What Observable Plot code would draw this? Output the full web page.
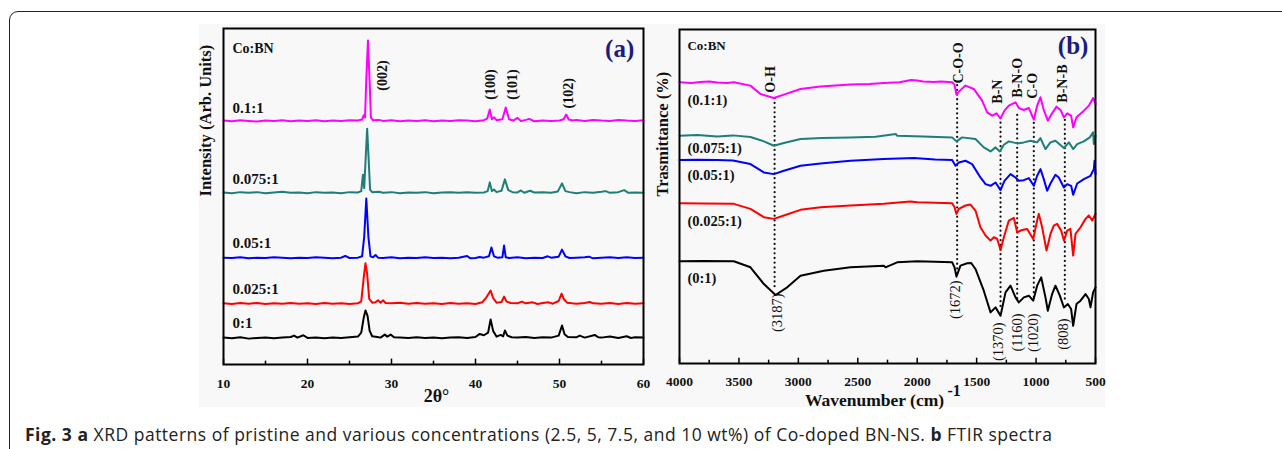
<!DOCTYPE html>
<html><head><meta charset="utf-8">
<script src="https://cdn.jsdelivr.net/npm/d3@7"></script>
<script src="https://cdn.jsdelivr.net/npm/@observablehq/plot@0.6"></script>
<style>
body{margin:0;background:#fff;width:1282px;height:449px;overflow:hidden;position:relative}
#frame{position:absolute;left:9px;top:11px;width:1400px;height:600px;border:1.5px solid #222;border-radius:9px;box-sizing:border-box}
#bg{position:absolute;left:199px;top:24px;width:906px;height:383px;background:#f8f8f8}
#a{position:absolute;left:180px;top:0}
#b{position:absolute;left:650px;top:0}
#cap{position:absolute;left:25px;top:424px;font-family:"Open Sans",sans-serif;font-size:17.5px;letter-spacing:0.5px;line-height:20px;color:#222;white-space:nowrap}
#cap b{font-weight:700}
</style></head><body>
<div id="frame"></div>
<div id="bg"></div>
<div id="a"></div>
<div id="b"></div>
<div id="cap"><b>Fig. 3 a</b> XRD patterns of pristine and various concentrations (2.5, 5, 7.5, and 10 wt%) of Co-doped BN-NS. <b>b</b> FTIR spectra</div>
<script>
// ---------- Panel (a): XRD ----------
const xrdNames = ["0.1:1", "0.075:1", "0.05:1", "0.025:1", "0:1"];
const xrdColors = ["#ff00ff", "#1e7f78", "#0000ff", "#ff0000", "#000000"];
const xrd01 = [[10,72.6],[11,72.4],[12,72.7],[13,72.5],[14,72.3],[15,72.6],[16,72.5],[17,72.7],[18,72.4],[19,72.6],[20,72.5],[21,72.7],[22,72.4],[23,72.6],[24,72.5],[25,72.7],[26,72.6],[26.5,72.9],[26.7,74.2],[26.85,73.5],[27.0,85],[27.2,96.4],[27.4,84],[27.55,73.5],[27.8,72.7],[28.5,72.8],[29,72.5],[30,72.7],[31,72.4],[32,72.6],[33,72.5],[34,72.7],[35,72.4],[36,72.6],[37,72.5],[38,72.7],[39,72.6],[40,72.4],[41,72.7],[41.4,73.2],[41.7,75.9],[41.95,73],[42.2,73.6],[42.5,72.7],[43.2,73],[43.6,76.5],[44.0,73],[44.5,72.6],[45,73.4],[45.4,72.5],[46,72.8],[46.4,73.1],[47,72.4],[48,72.6],[49,72.5],[50,72.6],[50.5,73.0],[50.8,74.4],[51.1,72.9],[51.6,72.6],[52,72.8],[53,72.5],[54,72.8],[55,72.6],[56,72.5],[57,72.8],[58,72.6],[59,72.5],[60,72.7]];
const xrd0075 = [[10,51.2],[11,51.0],[12,51.3],[13,51.1],[14,51.3],[15,51.0],[16,51.2],[17,51.4],[18,51.1],[19,51.2],[20,51.0],[21,51.3],[22,51.1],[23,51.2],[24,51.0],[25,51.3],[26,51.2],[26.4,51.6],[26.6,56.5],[26.75,52.5],[26.9,60],[27.1,70.2],[27.3,60],[27.45,52],[27.7,51.3],[28.5,51.4],[29,51.1],[30,51.3],[31,51.0],[32,51.2],[33,51.1],[34,51.3],[35,51.0],[36,51.2],[37,51.3],[38,51.1],[39,51.3],[40,51.1],[41,51.2],[41.45,51.6],[41.7,54.2],[41.95,51.6],[42.2,52.1],[42.5,51.3],[43.1,51.7],[43.5,55.1],[43.9,51.9],[44.4,51.3],[45,51.2],[45.4,51.8],[45.8,51.1],[46.5,51.7],[47,51.2],[48,51.3],[49,51.1],[49.8,51.5],[50.3,53.9],[50.7,51.6],[51.2,51.3],[52,51.0],[53,51.3],[54,51.1],[55,51.4],[55.5,51.6],[56,51.1],[57,51.3],[57.7,51.9],[58.2,51.1],[59,51.2],[60,51.1]];
const xrd005 = [[10,31.8],[11,31.7],[12,31.9],[13,31.6],[14,31.8],[15,31.7],[16,31.9],[17,31.8],[18,31.6],[19,31.8],[20,31.7],[21,31.9],[22,31.8],[23,31.6],[24,31.8],[24.5,32.3],[25,31.7],[26,31.8],[26.5,32.2],[26.75,38],[27.0,49.4],[27.25,38],[27.5,32.2],[27.8,31.9],[28.1,32.6],[28.4,31.8],[29,31.7],[30,31.9],[31,31.6],[32,31.8],[33,31.7],[34,31.9],[35,31.7],[36,31.8],[37,31.6],[38,31.8],[39,32.3],[39.4,31.6],[40,31.7],[40.5,32.0],[41,31.8],[41.6,32.2],[41.9,34.8],[42.2,32.2],[42.6,31.8],[43.2,31.9],[43.4,35.4],[43.6,31.9],[44,31.7],[45,31.9],[46,31.6],[47,31.8],[48,31.7],[48.6,32.2],[49,31.8],[49.9,32.1],[50.3,34.2],[50.7,32.2],[51.2,31.7],[52,31.8],[53,31.9],[53.5,32.1],[54,31.6],[55,31.8],[56,31.9],[57,31.7],[58,31.9],[59,31.7],[60,31.8]];
const xrd0025 = [[10,18.2],[11,18.0],[12,18.3],[13,18.1],[14,18.3],[15,18.0],[16,18.2],[17,18.1],[18,18.3],[19,18.1],[20,18.2],[21,18.0],[22,18.3],[23,18.1],[24,18.2],[25,18.0],[26,18.2],[26.4,18.8],[26.7,26],[26.9,30.1],[27.1,27],[27.35,19.5],[27.7,18.4],[28.1,18.5],[28.4,19.1],[28.7,18.4],[29.0,19.1],[29.3,18.3],[30,18.2],[31,18.4],[32,18.1],[33,18.3],[34,18.1],[35,18.2],[36,18.0],[37,18.3],[38,18.1],[39,18.2],[40,18.0],[40.8,18.5],[41.3,20.0],[41.8,22.0],[42.1,19.8],[42.5,18.4],[43.1,18.6],[43.4,20.2],[43.7,18.7],[44.2,18.3],[45,18.2],[45.5,18.7],[46,18.2],[46.8,18.5],[47.4,18.0],[48,18.3],[48.7,18.5],[49.2,18.1],[49.9,18.9],[50.25,21.1],[50.5,19.5],[50.9,18.4],[51.5,18.2],[52,18.1],[53,18.3],[53.6,18.6],[54,18.2],[55,18.1],[56,18.3],[57,18.0],[58,18.3],[59,18.1],[60,18.2]];
const xrd0 = [[10,8.0],[11,7.8],[12,8.1],[13,7.7],[14,7.9],[15,8.0],[16,7.8],[17,8.0],[18,8.2],[18.4,8.6],[18.8,8.0],[19.5,8.7],[20,7.9],[21,8.0],[22,7.8],[23,8.0],[24,7.9],[25,8.1],[26,8.3],[26.4,9.5],[26.7,14],[26.9,16.1],[27.15,14.5],[27.4,10],[27.7,8.4],[28.3,8.2],[28.7,8.0],[29.2,8.9],[29.5,8.3],[29.9,8.9],[30.3,8.1],[31,8.0],[32,7.9],[33,8.1],[34,7.9],[35,8.0],[36,7.8],[37,8.0],[38,8.1],[39,7.9],[40,8.2],[40.5,9.1],[41.0,8.7],[41.5,9.5],[41.8,13.4],[42.1,10],[42.5,8.3],[43.0,8.8],[43.3,8.4],[43.5,10.1],[43.8,8.6],[44.3,8.1],[45,8.0],[46,8.2],[47,7.9],[48,8.1],[49,8.0],[49.9,8.6],[50.3,11.6],[50.6,9.0],[51,8.2],[52,8.1],[52.4,8.6],[53,8.0],[54.2,8.8],[54.6,8.1],[55,8.0],[56,8.3],[57,7.9],[58,8.4],[58.5,7.9],[59,8.1],[60,8.0]];
const xrdSeries = [xrd01, xrd0075, xrd005, xrd0025, xrd0];
const xrdLabelY = [76.2, 55.1, 36.0, 22.3, 12.2];
const xrdTicks = [10, 20, 30, 40, 50, 60];
const xrdMinorTicks = [15, 25, 35, 45, 55];
const peakNames = ["(002)", "(100)", "(101)", "(102)"];
const peakX = [28.9, 41.8, 44.4, 51.1];
const peakY = [81.5, 78.8, 78.8, 76.2];

// ---------- Panel (b): FTIR ----------
const ftirNames = ["(0.1:1)", "(0.075:1)", "(0.05:1)", "(0.025:1)", "(0:1)"];
const ftirColors = ["#ff00ff", "#1e7f78", "#0000ff", "#ff0000", "#000000"];
const ftir01 = [[4000,84.2],[3900,84.0],[3823,84.3],[3750,84.4],[3683,84.1],[3600,84.0],[3543,84.2],[3403,83.2],[3319,80.7],[3206,79.5],[3122,80.5],[2982,82.2],[2814,82.9],[2561,83.5],[2400,83.7],[2281,84.0],[2150,84.2],[2050,84.9],[2000,84.7],[1950,84.4],[1860,84.3],[1800,84.4],[1706,84.2],[1686,83.5],[1670,80.5],[1641,81.7],[1594,83.2],[1524,82.2],[1454,78.7],[1411,75.2],[1369,74.2],[1333,74.9],[1299,73.4],[1266,75.7],[1229,77.2],[1173,78.2],[1145,76.5],[1103,75.9],[1061,76.5],[1019,73.0],[991,77.2],[963,79.7],[935,75.9],[901,72.7],[865,74.9],[828,76.9],[794,75.9],[766,73.7],[738,74.9],[705,74.2],[688,70.7],[660,73.7],[612,75.2],[556,77.2],[520,79.5],[500,77.7]];
const ftir0075 = [[4000,68.2],[3850,68.4],[3683,68.0],[3550,68.3],[3403,67.8],[3290,66.5],[3206,65.2],[3122,66.0],[2982,67.2],[2800,67.5],[2561,67.7],[2350,67.9],[2180,68.7],[2169,68.2],[1950,68.0],[1706,67.7],[1670,66.5],[1622,67.7],[1510,67.2],[1440,64.7],[1383,63.5],[1341,64.7],[1305,63.5],[1271,65.5],[1229,66.5],[1159,65.9],[1103,66.2],[1047,66.7],[991,66.2],[963,67.5],[921,64.2],[879,66.2],[837,66.7],[766,64.5],[724,66.2],[688,64.2],[654,65.7],[598,66.5],[548,67.7],[520,69.2],[514,65.7],[500,68.2]];
const ftir005 = [[4000,60.9],[3850,61.0],[3683,60.9],[3550,60.8],[3403,59.7],[3290,57.2],[3206,56.7],[3122,57.7],[2982,59.2],[2814,59.9],[2561,60.7],[2281,61.2],[2028,61.5],[1850,61.1],[1706,60.9],[1678,59.2],[1650,60.2],[1594,60.7],[1538,59.7],[1468,55.7],[1425,53.7],[1383,53.2],[1341,54.2],[1299,51.9],[1266,54.7],[1215,56.7],[1173,55.7],[1145,54.7],[1103,54.9],[1061,55.5],[1019,53.2],[991,56.2],[963,58.2],[935,55.2],[907,51.7],[879,53.9],[837,56.5],[809,55.7],[766,52.7],[738,53.7],[705,53.2],[688,50.5],[654,53.9],[598,55.2],[542,56.2],[514,58.2],[508,60.7],[500,56.7]];
const ftir0025 = [[4000,48.0],[3800,47.9],[3543,47.8],[3403,46.3],[3290,43.8],[3206,43.3],[3122,44.3],[2982,46.0],[2814,46.8],[2561,47.3],[2281,47.8],[2057,48.5],[2000,48.3],[1850,48.1],[1706,48.0],[1686,46.8],[1670,44.8],[1650,46.3],[1594,47.3],[1552,47.6],[1510,45.8],[1468,40.8],[1425,38.3],[1383,36.8],[1355,37.8],[1327,37.3],[1299,34.0],[1271,37.8],[1229,42.8],[1187,43.6],[1159,39.3],[1117,40.0],[1075,40.3],[1024,37.3],[991,42.8],[977,44.8],[949,40.8],[912,33.8],[879,38.8],[851,41.3],[823,41.8],[789,39.8],[766,36.8],[738,39.8],[711,40.3],[688,32.3],[668,38.8],[626,40.8],[584,43.3],[556,44.3],[528,42.8],[500,44.8]];
const ftir0 = [[4000,30.6],[3800,30.7],[3543,30.6],[3403,28.8],[3290,23.8],[3192,20.5],[3094,22.8],[2982,26.3],[2786,27.8],[2561,28.8],[2281,29.3],[2267,28.8],[2169,30.3],[2000,30.6],[1850,30.5],[1706,30.3],[1686,28.8],[1670,26.0],[1636,29.3],[1580,30.0],[1546,30.1],[1510,28.3],[1440,21.8],[1383,15.3],[1341,16.8],[1299,14.3],[1257,21.3],[1215,23.3],[1173,19.8],[1145,18.3],[1103,19.8],[1061,20.3],[1024,18.8],[991,23.3],[957,25.8],[921,19.8],[901,15.8],[865,20.8],[837,23.3],[800,20.3],[766,16.8],[733,17.8],[705,16.3],[688,11.3],[660,17.8],[626,18.8],[584,20.8],[556,19.3],[542,16.8],[520,21.3],[500,22.8]];
const ftirSeries = [ftir01, ftir0075, ftir005, ftir0025, ftir0];
const ftirLabelY = [78.7, 64.4, 56.3, 42.5, 25.4];
const ftirTicks = [4000, 3500, 3000, 2500, 2000, 1500, 1000, 500];
const ftirMinorTicks = [3750, 3250, 2750, 2250, 1750, 1250, 750];
// dotted guide lines: wavenumber, top, bottom
const guideX = [3200, 1664, 1299, 1159, 1019, 758];
const guideTop = [79.3, 83.2, 73.4, 74.3, 71.9, 72.8];
const guideBottom = [22.8, 25.7, 15.9, 18.9, 19.8, 18.9];
const bondNames = ["O-H", "C-O-O", "B-N", "B-N-O", "C-O", "B-N-B"];
const bondX = [3234, 1653, 1324, 1156, 1030, 778];
const bondY = [81.1, 83.8, 77.8, 79.6, 79.3, 78.1];
const waveNames = ["(3187)", "(1672)", "(1370)", "(1160)", "(1020)", "(808)"];
const waveX = [3176, 1678, 1316, 1156, 1022, 769];
const waveY = [21.0, 24.9, 12.3, 15.0, 15.0, 13.5];

const serif = "'Liberation Serif','Times New Roman',serif";
const txt = {fontFamily: serif, fontWeight: "bold", fill: "#111"};

function toRows(series, names) {
  const rows = [];
  series.forEach((s, i) => s.forEach(([x, y]) => rows.push({x, y, s: names[i]})));
  return rows;
}

// Panel (a)
const xrdRows = toRows(xrdSeries, xrdNames);
const plotA = Plot.plot({
  width: 470, height: 410,
  marginLeft: 43, marginRight: 7, marginTop: 28, marginBottom: 46,
  style: {background: "transparent", overflow: "visible", fontFamily: serif},
  x: {domain: [10, 60], axis: null},
  y: {domain: [0, 100], axis: null},
  color: {domain: xrdNames, range: xrdColors},
  marks: [
    Plot.line(xrdRows, {x: "x", y: "y", z: "s", stroke: "s", strokeWidth: 2}),
    Plot.ruleX(xrdTicks, {x: d => d, y1: 0, y2: 1.6, stroke: "#000", strokeWidth: 1.5}),
    Plot.ruleX(xrdMinorTicks, {x: d => d, y1: 0, y2: 1.0, stroke: "#000", strokeWidth: 1.5}),
    Plot.frame({stroke: "#000", strokeWidth: 2}),
    Plot.text(xrdTicks, {x: d => d, y: 0, dy: 19, text: d => String(d), fontSize: 13.5, ...txt}),
    Plot.text(xrdNames, {x: 11.07, y: (d, i) => xrdLabelY[i], text: d => d, textAnchor: "start", fontSize: 15, ...txt}),
    Plot.text(["Co:BN"], {x: 11.07, y: 94.0, text: d => d, textAnchor: "start", fontSize: 14, ...txt}),
    Plot.text(["(a)"], {x: 58.9, y: 94.0, text: d => d, textAnchor: "end", fontSize: 25, fontFamily: serif, fontWeight: "bold", fill: "#1c1c7c"}),
    Plot.text(peakNames, {x: (d, i) => peakX[i], y: (d, i) => peakY[i], text: d => d, rotate: -90, textAnchor: "start", fontSize: 14, ...txt}),
    Plot.text(["2θ°"], {frameAnchor: "bottom", lineAnchor: "middle", dy: 32, dx: 3, text: d => d, fontSize: 18, ...txt}),
    Plot.text(["Intensity (Arb. Units)"], {frameAnchor: "left", dx: -18, rotate: -90, text: d => d, fontSize: 16.5, ...txt})
  ]
});
document.getElementById("a").appendChild(plotA);

// Panel (b)
const ftirRows = toRows(ftirSeries, ftirNames);
const guides = guideX.map((x, i) => ({x, y1: guideTop[i], y2: guideBottom[i]}));
const plotB = Plot.plot({
  width: 450, height: 410,
  marginLeft: 29, marginRight: 5, marginTop: 29, marginBottom: 47,
  style: {background: "transparent", overflow: "visible", fontFamily: serif},
  x: {domain: [4000, 500], axis: null},
  y: {domain: [0, 100], axis: null},
  color: {domain: ftirNames, range: ftirColors},
  marks: [
    Plot.ruleX(guides, {x: "x", y1: "y1", y2: "y2", stroke: "#111", strokeWidth: 2.2, strokeDasharray: "0.1,4.6", strokeLinecap: "round"}),
    Plot.line(ftirRows, {x: "x", y: "y", z: "s", stroke: "s", strokeWidth: 2}),
    Plot.ruleX(ftirTicks, {x: d => d, y1: 0, y2: 1.6, stroke: "#000", strokeWidth: 1.5}),
    Plot.ruleX(ftirMinorTicks, {x: d => d, y1: 0, y2: 1.0, stroke: "#000", strokeWidth: 1.5}),
    Plot.frame({stroke: "#000", strokeWidth: 2}),
    Plot.text(ftirTicks, {x: d => d, y: 0, dy: 18, text: d => String(d), fontSize: 13.5, ...txt}),
    Plot.text(ftirNames, {x: 3933, y: (d, i) => ftirLabelY[i], text: d => d, textAnchor: "start", fontSize: 14.5, ...txt}),
    Plot.text(["Co:BN"], {x: 3933, y: 95.2, text: d => d, textAnchor: "start", fontSize: 13, ...txt}),
    Plot.text(["(b)"], {x: 560, y: 95.0, text: d => d, textAnchor: "end", fontSize: 25, fontFamily: serif, fontWeight: "bold", fill: "#1c1c7c"}),
    Plot.text(bondNames, {x: (d, i) => bondX[i], y: (d, i) => bondY[i], text: d => d, rotate: -90, textAnchor: "start", fontSize: 14, ...txt}),
    Plot.text(waveNames, {x: (d, i) => waveX[i], y: (d, i) => waveY[i], text: d => d, rotate: -90, textAnchor: "end", fontSize: 14.5, fontFamily: serif, fontWeight: "normal", fill: "#111"}),
    Plot.text(["Wavenumber (cm)"], {frameAnchor: "bottom", lineAnchor: "middle", dy: 37, dx: -13, text: d => d, fontSize: 17.5, ...txt}),
    Plot.text(["-1"], {frameAnchor: "bottom", lineAnchor: "middle", dy: 27, dx: 60, textAnchor: "start", text: d => d, fontSize: 16, ...txt}),
    Plot.text(["Trasmittance (%)"], {frameAnchor: "left", dx: -17, rotate: -90, text: d => d, fontSize: 16.5, ...txt})
  ]
});
document.getElementById("b").appendChild(plotB);
</script>
</body></html>
